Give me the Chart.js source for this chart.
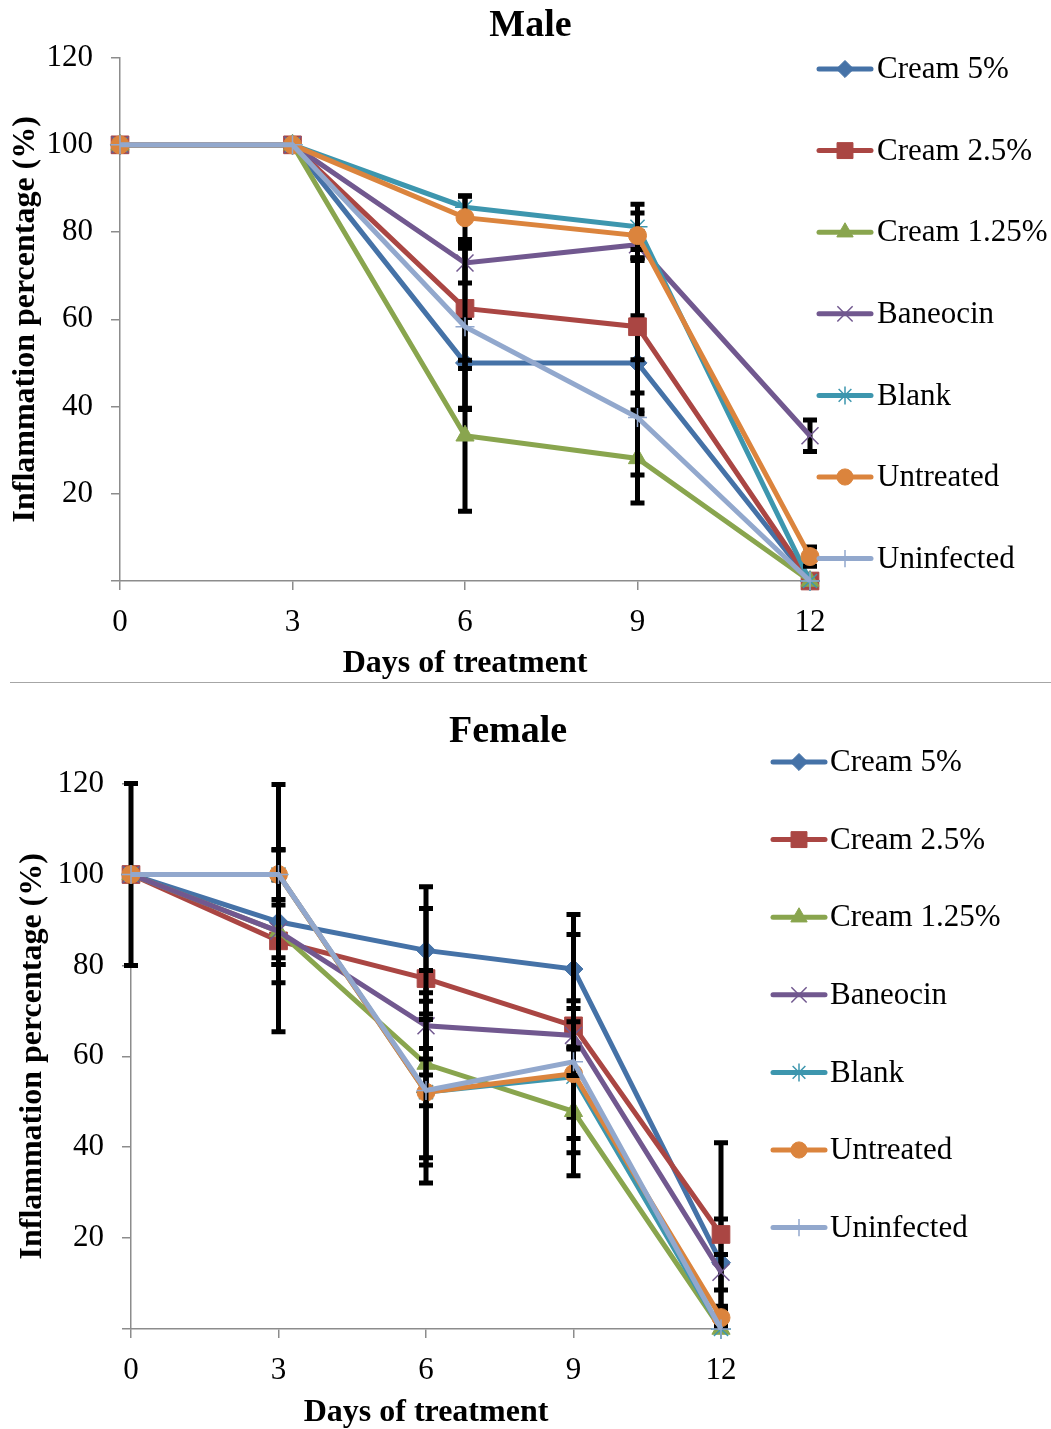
<!DOCTYPE html>
<html>
<head>
<meta charset="utf-8">
<title>Inflammation percentage</title>
<script src="https://cdn.jsdelivr.net/npm/chart.js@4.4.1/dist/chart.umd.min.js"></script>
<style>
body{margin:0;background:#fff;width:1051px;height:1429px;position:relative;overflow:hidden}
canvas{position:absolute;left:0}
#male{top:0}
#female{top:684px}
.sep{position:absolute;left:10px;top:682px;width:1041px;height:0;border-top:1.5px solid #a6a6a6}
</style>
</head>
<body>
<canvas id="male" width="1051" height="683"></canvas>
<div class="sep"></div>
<canvas id="female" width="1051" height="745"></canvas>
<script>
const DAYS = [0, 3, 6, 9, 12];
const SERIES = ["Cream 5%", "Cream 2.5%", "Cream 1.25%", "Baneocin", "Blank", "Untreated", "Uninfected"];
const Y_MIN = 0, Y_MAX = 120, Y_STEP = 20, X_STEP = 3;

// male: mean values per day
const MALE_CREAM_5 = [100, 100, 50, 50, 0];
const MALE_CREAM_25 = [100, 100, 62.5, 58.3, 0];
const MALE_CREAM_125 = [100, 100, 33.3, 28.1, 0];
const MALE_BANEOCIN = [100, 100, 72.9, 77.1, 33.3];
const MALE_BLANK = [100, 100, 85.7, 81.2, 0];
const MALE_UNTREATED = [100, 100, 83.3, 79.2, 5.6];
const MALE_UNINFECTED = [100, 100, 58.3, 37.5, 0];
// male: error (+/-)
const MALE_ERR_CREAM_5 = [0, 0, 10.4, 10.8, 0];
const MALE_ERR_CREAM_25 = [0, 0, 13.8, 15.2, 0];
const MALE_ERR_CREAM_125 = [0, 0, 17.3, 10.2, 0];
const MALE_ERR_BANEOCIN = [0, 0, 4.6, 3, 3.6];
const MALE_ERR_BLANK = [0, 0, 2.5, 5.2, 0];
const MALE_ERR_UNTREATED = [0, 0, 5, 5.2, 2.2];
const MALE_ERR_UNINFECTED = [0, 0, 19, 13.2, 0];

// female: mean values per day
const FEMALE_CREAM_5 = [100, 89.6, 83.3, 79.2, 14.6];
const FEMALE_CREAM_25 = [100, 85.4, 77.1, 66.7, 20.8];
const FEMALE_CREAM_125 = [100, 87.5, 58.3, 47.9, 0];
const FEMALE_BANEOCIN = [100, 87.5, 66.7, 64.6, 12.5];
const FEMALE_BLANK = [100, 100, 52.1, 55.5, 0];
const FEMALE_UNTREATED = [100, 100, 52.1, 56.2, 2.5];
const FEMALE_UNINFECTED = [100, 100, 52.5, 58.8, 0];
// female: error (+/-)
const FEMALE_ERR_CREAM_5 = [0, 9.4, 14, 12, 9.6];
const FEMALE_ERR_CREAM_25 = [0, 20, 15.4, 20.1, 20.2];
const FEMALE_ERR_CREAM_125 = [0, 11.3, 20.6, 14.2, 0];
const FEMALE_ERR_BANEOCIN = [0, 5.8, 7.3, 3, 3.9];
const FEMALE_ERR_BLANK = [0, 0, 16, 16.7, 0];
const FEMALE_ERR_UNTREATED = [20, 19.8, 20, 14.3, 2];
const FEMALE_ERR_UNINFECTED = [0, 5.5, 3.4, 3, 0];

const STYLE = [
  {color:"#4572A7", pointStyle:"rectRot", radius:9.5, bw:1},
  {color:"#AA4643", pointStyle:"rect", radius:12.5, bw:1},
  {color:"#89A54E", pointStyle:"triangle", radius:10.5, bw:1},
  {color:"#71588F", pointStyle:"crossRot", radius:12, bw:1.5},
  {color:"#3D96AE", pointStyle:"star", radius:10, bw:1.5},
  {color:"#DB843D", pointStyle:"circle", radius:9, bw:1},
  {color:"#92A8CD", pointStyle:"cross", radius:9.5, bw:1.5}
];
const AXIS = "#8c8c8c";
const FONT = "'Liberation Serif', 'Times New Roman', Times, serif";

Chart.defaults.font.family = FONT;
Chart.defaults.color = "#000";

const errorBars = {
  id:"errorBars",
  beforeDatasetDraw(chart, args){
    const ds = chart.data.datasets[args.index], y = chart.scales.y, ctx = chart.ctx;
    ctx.save();
    ctx.strokeStyle = "#000";
    args.meta.data.forEach((pt, i) => {
      const e = ds.errors[i];
      if(!e) return;
      const v = ds.data[i].y;
      const top = y.getPixelForValue(v + e), bot = y.getPixelForValue(v - e);
      ctx.lineWidth = 5;
      ctx.beginPath(); ctx.moveTo(pt.x, top); ctx.lineTo(pt.x, bot); ctx.stroke();
      ctx.lineWidth = 5;
      ctx.beginPath();
      ctx.moveTo(pt.x - 7, top); ctx.lineTo(pt.x + 7, top);
      ctx.moveTo(pt.x - 7, bot); ctx.lineTo(pt.x + 7, bot);
      ctx.stroke();
    });
    ctx.restore();
  }
};

const sideLegend = {
  id:"sideLegend",
  afterDraw(chart, args, opts){
    const ctx = chart.ctx;
    ctx.save();
    chart.data.datasets.forEach((ds, i) => {
      const st = STYLE[i], y = opts.top + i * opts.step, x = chart.chartArea.right + opts.offset;
      ctx.strokeStyle = st.color;
      ctx.fillStyle = st.color;
      ctx.lineWidth = 5;
      ctx.lineCap = "round";
      ctx.beginPath(); ctx.moveTo(x + 1, y); ctx.lineTo(x + 53, y); ctx.stroke();
      ctx.lineCap = "butt";
      ctx.lineWidth = st.bw;
      Chart.helpers.drawPoint(ctx, {pointStyle:st.pointStyle, radius:st.radius * 0.9, borderWidth:st.bw, rotation:0}, x + 27, y);
      ctx.fillStyle = "#000";
      ctx.font = "31px " + FONT;
      ctx.textBaseline = "middle";
      ctx.fillText(ds.label, x + opts.textGap, y + 1);
    });
    ctx.restore();
  }
};

function makeDatasets(values, errors){
  return SERIES.map((name, i) => ({
    label:name,
    data:DAYS.map((d, j) => ({x:d, y:values[i][j]})),
    errors:errors[i],
    borderColor:STYLE[i].color,
    backgroundColor:STYLE[i].color,
    borderWidth:5,
    pointStyle:STYLE[i].pointStyle,
    pointRadius:STYLE[i].radius,
    pointBorderWidth:STYLE[i].bw,
    pointBorderColor:STYLE[i].color,
    pointBackgroundColor:STYLE[i].color,
    tension:0,
    clip:false,
    order:SERIES.length - i
  }));
}

function makeOptions(c){
  return {
    responsive:false,
    animation:false,
    events:[],
    layout:{padding:{left:c.padLeft, right:c.padRight, top:0, bottom:0}},
    plugins:{
      legend:{display:false},
      tooltip:{enabled:false},
      title:{display:true, text:c.title, color:"#000", font:{size:38, weight:"bold", lineHeight:1.2}, padding:{top:c.titleTop, bottom:c.titleBottom}},
      sideLegend:c.legend
    },
    scales:{
      x:{
        type:"linear", min:DAYS[0], max:DAYS[DAYS.length - 1],
        ticks:{stepSize:X_STEP, font:{size:31}, padding:14, maxRotation:0},
        grid:{drawOnChartArea:false, drawTicks:true, tickLength:9, color:AXIS, lineWidth:1.5},
        border:{color:AXIS, width:1.5},
        title:{display:true, text:"Days of treatment", font:{size:32, weight:"bold", lineHeight:1}, padding:{top:0, bottom:c.xTitleBottom}},
        afterFit:s => { s.height = c.xHeight; }
      },
      y:{
        type:"linear", min:Y_MIN, max:Y_MAX,
        ticks:{stepSize:Y_STEP, font:{size:31}, padding:18, callback:v => v === 0 ? "" : v},
        grid:{drawOnChartArea:false, drawTicks:true, tickLength:9, color:AXIS, lineWidth:1.5},
        border:{color:AXIS, width:1.5},
        title:{display:true, text:"Inflammation percentage (%)", font:{size:32, weight:"bold", lineHeight:1}, padding:{top:c.yTitleTop, bottom:0}},
        afterFit:s => { s.width = c.yWidth; }
      },
      side:{
        type:"linear", position:"right", display:true,
        grid:{display:false}, border:{display:false}, ticks:{display:false},
        afterFit:s => { s.width = c.sideWidth; }
      }
    }
  };
}

new Chart(document.getElementById("male"), {
  type:"line",
  data:{datasets:makeDatasets(
    [MALE_CREAM_5, MALE_CREAM_25, MALE_CREAM_125, MALE_BANEOCIN, MALE_BLANK, MALE_UNTREATED, MALE_UNINFECTED],
    [MALE_ERR_CREAM_5, MALE_ERR_CREAM_25, MALE_ERR_CREAM_125, MALE_ERR_BANEOCIN, MALE_ERR_BLANK, MALE_ERR_UNTREATED, MALE_ERR_UNINFECTED])},
  options:makeOptions({title:"Male", padLeft:10, padRight:0, yWidth:110, sideWidth:241, xHeight:102,
    titleTop:3, titleBottom:9, yTitleTop:0, xTitleBottom:3, legend:{top:69, step:81.6, offset:8, textGap:59}}),
  plugins:[errorBars, sideLegend]
});

new Chart(document.getElementById("female"), {
  type:"line",
  data:{datasets:makeDatasets(
    [FEMALE_CREAM_5, FEMALE_CREAM_25, FEMALE_CREAM_125, FEMALE_BANEOCIN, FEMALE_BLANK, FEMALE_UNTREATED, FEMALE_UNINFECTED],
    [FEMALE_ERR_CREAM_5, FEMALE_ERR_CREAM_25, FEMALE_ERR_CREAM_125, FEMALE_ERR_BANEOCIN, FEMALE_ERR_BLANK, FEMALE_ERR_UNTREATED, FEMALE_ERR_UNINFECTED])},
  options:makeOptions({title:"Female", padLeft:0, padRight:35, yWidth:131, sideWidth:295, xHeight:100,
    titleTop:25, titleBottom:29, yTitleTop:17, xTitleBottom:0, legend:{top:78, step:77.6, offset:51, textGap:58}}),
  plugins:[errorBars, sideLegend]
});
</script>
</body>
</html>
